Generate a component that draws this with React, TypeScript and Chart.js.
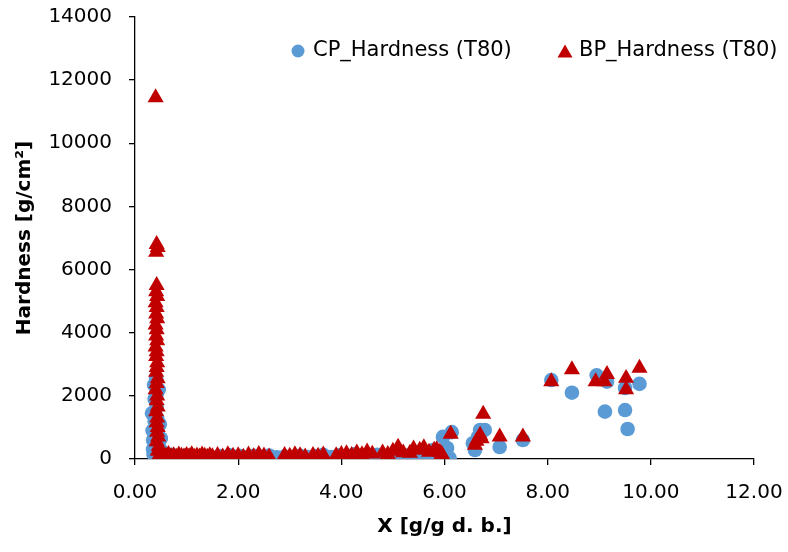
import React, { useEffect, useRef } from "react";
import { Chart, registerables } from "chart.js";
Chart.register(...registerables);

// CP_Hardness (T80)
const cpX = [
  0.33, 0.34, 0.35, 0.35, 0.36, 0.37, 0.38, 0.38, 0.39, 0.4, 0.41, 0.42, 0.42, 0.43, 0.43, 0.44, 0.45, 0.46, 0.47, 0.48, 0.5, 0.52, 0.55, 0.58,
  0.62, 0.68, 0.72, 0.78, 0.85, 0.92, 0.98, 1.05, 1.12, 1.2, 1.28, 1.35, 1.45, 1.55, 1.65, 1.75, 1.85, 1.95, 2.05, 2.15, 2.3, 2.45, 2.6, 2.75,
  2.9, 3.05, 3.2, 3.35, 3.5, 3.65, 3.8, 3.95, 4.1, 4.25, 4.4, 4.55, 4.7, 4.85, 5.0, 5.15, 5.3, 5.45, 5.58, 5.7, 5.78, 5.85, 5.9, 5.97,
  6.05, 6.1, 6.14, 6.55, 6.59, 6.65, 6.69, 6.78, 7.07, 7.52,
  8.07, 8.47, 8.95, 9.11, 9.15, 9.5, 9.5, 9.55, 9.78,
];
const cpY = [
  1450, 900, 600, 300, 150, 2350, 1900, 1200, 750, 450, 2550, 2050, 1650, 1300, 1000, 800, 550, 2200, 350, 1100, 650, 250, 120, 80,
  100, 60, 130, 40, 90, 50, 110, 30, 80, 50, 100, 40, 70, 30, 90, 50, 120, 60, 90, 40, 100, 60, 110, 50,
  80, 40, 100, 60, 90, 130, 60, 120, 80, 150, 110, 90, 130, 60, 100, 150, 120, 190, 130, 200, 285, 150, 60, 700,
  350, 30, 850, 500, 285, 700, 920, 920, 380, 600,
  2500, 2100, 2650, 1500, 2450, 2250, 1550, 950, 2380,
];

// BP_Hardness (T80)
const bpX = [
  0.4, 0.42, 0.44, 0.41, 0.42, 0.41, 0.43, 0.4, 0.42, 0.41, 0.43, 0.4, 0.42, 0.41, 0.43, 0.4, 0.42, 0.41, 0.43, 0.42, 0.41, 0.44, 0.42, 0.4,
  0.43, 0.42, 0.44, 0.41, 0.43, 0.42, 0.44, 0.43, 0.45, 0.42, 0.46, 0.44, 0.48, 0.52,
  0.55, 0.6, 0.65, 0.7, 0.75, 0.8, 0.85, 0.9, 0.95, 1.0, 1.05, 1.1, 1.15, 1.2, 1.25, 1.3, 1.35, 1.4, 1.45, 1.5, 1.6, 1.7, 1.8, 1.9, 2.0,
  2.1, 2.2, 2.3, 2.4, 2.5, 2.6, 2.9, 3.0, 3.1, 3.2, 3.3, 3.45, 3.55, 3.65, 3.9, 4.0, 4.1, 4.2, 4.3, 4.4, 4.5, 4.6, 4.8, 4.9, 5.0, 5.1,
  5.2, 5.33, 5.4, 5.52, 5.6, 5.7, 5.8, 5.85, 5.91, 5.92, 5.95, 5.97,
  6.12, 6.59, 6.62, 6.69, 6.72, 6.75, 7.07, 7.52,
  8.07, 8.47, 8.93, 9.1, 9.15, 9.52, 9.52, 9.78,
];
const bpY = [
  11450, 6800, 6700, 6550, 5500, 5300, 5150, 4950, 4800, 4600, 4450, 4250, 4100, 3900, 3750, 3550, 3400, 3250, 3050, 2900, 2750, 2550, 2400, 2200,
  2000, 1850, 1650, 1500, 1300, 1150, 1000, 850, 700, 550, 400, 250, 150, 100,
  120, 90, 150, 80, 110, 60, 130, 90, 70, 120, 80, 140, 60, 100, 70, 130, 90, 60, 110, 80, 120, 70, 140, 90, 110,
  60, 130, 80, 150, 100, 70, 120, 90, 140, 110, 70, 120, 90, 130, 110, 150, 170, 120, 200, 140, 230, 160, 200, 150, 250, 380,
  200, 190, 320, 285, 360, 220, 280, 300, 220, 80, 150, 60,
  790, 440, 570, 760, 650, 1420, 700, 700,
  2450, 2830, 2450, 2450, 2680, 2560, 2200, 2880,
];

const xTicks = [0, 2, 4, 6, 8, 10, 12];
const yTicks = [0, 2000, 4000, 6000, 8000, 10000, 12000, 14000];

const seriesNames = ["CP_Hardness (T80)", "BP_Hardness (T80)"];
const BLUE = "#5B9BD5";
const RED = "#C00000";
const FONT = "'DejaVu Sans', sans-serif";

const legendPlugin = {
  id: "customLegend",
  afterDraw(chart: any) {
    const { ctx, chartArea } = chart;
    const r = chartArea.right;
    const cy = 51;
    ctx.save();
    ctx.font = `21px ${FONT}`;
    ctx.textBaseline = "middle";
    ctx.textAlign = "left";
    // circle
    ctx.fillStyle = BLUE;
    ctx.beginPath();
    ctx.arc(r - 456, cy, 6.5, 0, Math.PI * 2);
    ctx.fill();
    ctx.fillStyle = "#000";
    ctx.fillText(seriesNames[0], r - 441, cy);
    // triangle
    const tx = r - 189;
    ctx.fillStyle = RED;
    ctx.beginPath();
    ctx.moveTo(tx, cy - 6.5);
    ctx.lineTo(tx + 7.5, cy + 6.5);
    ctx.lineTo(tx - 7.5, cy + 6.5);
    ctx.closePath();
    ctx.fill();
    ctx.fillStyle = "#000";
    ctx.fillText(seriesNames[1], r - 175, cy);
    ctx.restore();
  },
};

const zeroPad = (s: any) => {
  s.paddingTop = 0;
  s.paddingBottom = 0;
  s.paddingLeft = 0;
  s.paddingRight = 0;
};

export default function App() {
  const ref = useRef<HTMLCanvasElement | null>(null);
  useEffect(() => {
    document.body.style.margin = "0";
    const cp = cpX.map((x, i) => ({ x, y: cpY[i] }));
    const bp = bpX.map((x, i) => ({ x, y: bpY[i] }));
    const chart = new Chart(ref.current as HTMLCanvasElement, {
      type: "scatter",
      data: {
        datasets: [
          {
            label: seriesNames[0],
            data: cp,
            pointStyle: "circle",
            pointRadius: 7.3,
            backgroundColor: BLUE,
            borderColor: BLUE,
            borderWidth: 0,
            order: 1,
          },
          {
            label: seriesNames[1],
            data: bp,
            pointStyle: "triangle",
            pointRadius: 9.3,
            backgroundColor: RED,
            borderColor: RED,
            borderWidth: 0,
            order: 0,
          },
        ],
      },
      options: {
        animation: false,
        responsive: false,
        layout: { padding: { top: 17, right: 34, left: 0, bottom: 0 } },
        plugins: { legend: { display: false }, tooltip: { enabled: false } },
        scales: {
          x: {
            type: "linear",
            min: 0,
            max: 12,
            afterBuildTicks: (s: any) => {
              s.ticks = xTicks.map((v) => ({ value: v }));
            },
            afterFit: (s: any) => {
              s.height = 93;
              zeroPad(s);
            },
            ticks: {
              color: "#000",
              font: { family: FONT, size: 20 },
              padding: 16,
              maxRotation: 0,
              callback: (v: any) => Number(v).toFixed(2),
            },
            grid: { display: true, drawOnChartArea: false, drawTicks: true, tickLength: 6, color: "#000", lineWidth: 1.3 },
            border: { display: true, color: "#000", width: 1.3 },
            title: {
              display: true,
              text: "X [g/g d. b.]",
              color: "#000",
              font: { family: FONT, size: 20, weight: "bold" },
              padding: { top: 0, bottom: 13 },
            },
          },
          y: {
            type: "linear",
            min: 0,
            max: 14000,
            afterBuildTicks: (s: any) => {
              s.ticks = yTicks.map((v) => ({ value: v }));
            },
            afterFit: (s: any) => {
              s.width = 135;
              zeroPad(s);
            },
            ticks: {
              color: "#000",
              font: { family: FONT, size: 20 },
              padding: 17,
              callback: (v: any) => String(v),
            },
            grid: { display: true, drawOnChartArea: false, drawTicks: true, tickLength: 6, color: "#000", lineWidth: 1.3 },
            border: { display: true, color: "#000", width: 1.3 },
            title: {
              display: true,
              text: "Hardness [g/cm²]",
              color: "#000",
              font: { family: FONT, size: 20, weight: "bold" },
              padding: { top: 13, bottom: 0 },
            },
          },
        },
      },
      plugins: [legendPlugin],
    } as any);
    return () => chart.destroy();
  }, []);
  return (
    <div style={{ width: 788, height: 552, background: "#fff" }}>
      <canvas ref={ref} width={788} height={552} style={{ display: "block" }} />
    </div>
  );
}
